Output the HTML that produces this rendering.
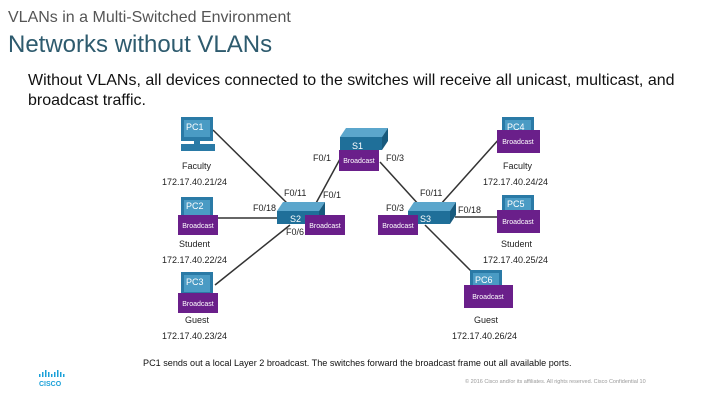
<!DOCTYPE html>
<html><head><meta charset="utf-8"><style>
body{margin:0;width:720px;height:405px;background:#fff;overflow:hidden;font-family:"Liberation Sans",sans-serif;position:relative}
.t1{position:absolute;left:8px;top:9px;font-size:16px;color:#555}
.t2{position:absolute;left:8px;top:31px;font-size:24px;color:#2e5b6e}
.b{position:absolute;left:28px;top:71px;font-size:16px;color:#111;line-height:20px;width:665px}
svg{position:absolute;left:0;top:0}
</style></head><body>
<div class="t1">VLANs in a Multi-Switched Environment</div>
<div class="t2">Networks without VLANs</div>
<div class="b">Without VLANs, all devices connected to the switches will receive all unicast, multicast, and broadcast traffic.</div>
<svg width="720" height="405" font-family="Liberation Sans, sans-serif">
<defs>
<g id="pc"><rect x="0" y="0" width="32" height="24" fill="#2a7aa6"/><rect x="3" y="3" width="26" height="17" fill="#4a9bc4"/><rect x="13" y="24" width="6" height="3" fill="#2a7aa6"/><rect x="0" y="27" width="34" height="7" fill="#2a7aa6"/></g>
<g id="sw"><polygon points="8,0 50,0 44,9 2,9" fill="#5ba6cc"/><rect x="2" y="9" width="42" height="13" fill="#1f6f99"/><polygon points="44,9 50,0 50,13 44,22" fill="#185a7d"/></g>
</defs>
<g stroke="#333" stroke-width="1.5">
<line x1="213" y1="130" x2="292" y2="208"/><line x1="218" y1="218" x2="280" y2="218"/><line x1="215" y1="285" x2="290" y2="225"/>
<line x1="315" y1="205" x2="346" y2="148"/><line x1="380" y1="162" x2="420" y2="206"/>
<line x1="440" y1="205" x2="500" y2="138"/><line x1="455" y1="217" x2="497" y2="217"/><line x1="425" y1="225" x2="485" y2="285"/>
</g>
<use href="#pc" x="181" y="117"/><use href="#pc" x="181" y="197"/><use href="#pc" x="181" y="272"/>
<use href="#pc" x="502" y="117"/><use href="#pc" x="502" y="195"/><use href="#pc" x="470" y="270"/>
<use href="#sw" x="338" y="128"/><use href="#sw" x="275" y="202"/><use href="#sw" x="406" y="202"/>
<g fill="#fff" font-size="9"><text x="186" y="130">PC1</text><text x="186" y="209">PC2</text><text x="186" y="285">PC3</text><text x="507" y="130">PC4</text><text x="507" y="207">PC5</text><text x="475" y="283">PC6</text>
<text x="352" y="149">S1</text><text x="290" y="222">S2</text><text x="420" y="222">S3</text></g>
<g fill="#6a1f8a"><rect x="339" y="150" width="40" height="21"/><rect x="178" y="215" width="40" height="20"/><rect x="178" y="293" width="40" height="20"/><rect x="305" y="215" width="40" height="20"/><rect x="378" y="215" width="40" height="20"/><rect x="497" y="130" width="43" height="23"/><rect x="497" y="210" width="43" height="23"/><rect x="464" y="285" width="49" height="23"/></g>
<g fill="#fff" font-size="7" text-anchor="middle"><text x="359" y="163">Broadcast</text><text x="198" y="228">Broadcast</text><text x="198" y="306">Broadcast</text><text x="325" y="228">Broadcast</text><text x="398" y="228">Broadcast</text><text x="518" y="144">Broadcast</text><text x="518" y="224">Broadcast</text><text x="488" y="299">Broadcast</text></g>
<g fill="#222" font-size="9"><text x="313" y="161">F0/1</text><text x="386" y="161">F0/3</text><text x="284" y="196">F0/11</text><text x="323" y="198">F0/1</text><text x="253" y="211">F0/18</text><text x="286" y="235">F0/6</text><text x="420" y="196">F0/11</text><text x="386" y="211">F0/3</text><text x="458" y="213">F0/18</text>
<text x="182" y="169">Faculty</text><text x="162" y="185">172.17.40.21/24</text><text x="179" y="247">Student</text><text x="162" y="263">172.17.40.22/24</text><text x="185" y="323">Guest</text><text x="162" y="339">172.17.40.23/24</text>
<text x="503" y="169">Faculty</text><text x="483" y="185">172.17.40.24/24</text><text x="501" y="247">Student</text><text x="483" y="263">172.17.40.25/24</text><text x="474" y="323">Guest</text><text x="452" y="339">172.17.40.26/24</text></g>
<text x="143" y="366" font-size="9.1" fill="#111">PC1 sends out a local Layer 2 broadcast. The switches forward the broadcast frame out all available ports.</text>
<text x="465" y="383" font-size="5.5" fill="#999">© 2016 Cisco and/or its affiliates. All rights reserved.   Cisco Confidential        10</text>
<g fill="#1aa0d8"><rect x="39" y="374" width="1.5" height="3"/><rect x="42" y="372" width="1.5" height="5"/><rect x="45" y="370" width="1.5" height="7"/><rect x="48" y="372" width="1.5" height="5"/><rect x="51" y="374" width="1.5" height="3"/><rect x="54" y="372" width="1.5" height="5"/><rect x="57" y="370" width="1.5" height="7"/><rect x="60" y="372" width="1.5" height="5"/><rect x="63" y="374" width="1.5" height="3"/>
<text x="39" y="386" font-size="7" font-weight="bold">CISCO</text></g>
</svg>
</body></html>
